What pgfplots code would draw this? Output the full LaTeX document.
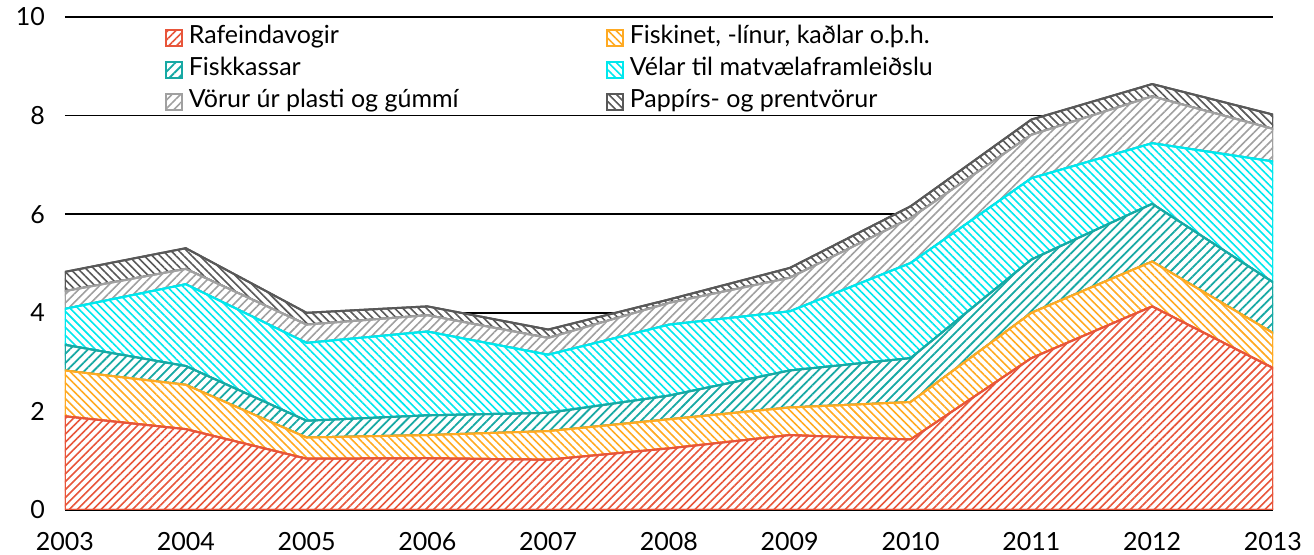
\documentclass[border=0pt]{standalone}
\usepackage{fontspec}
\setmainfont{Lato}
\usepackage{pgfplots}
\usepackage{pgfplotstable}
\pgfplotsset{compat=1.18}
\usetikzlibrary{patterns.meta}
\definecolor{cred}{HTML}{E8553A}
\definecolor{corange}{HTML}{FFAA22}
\definecolor{cteal}{HTML}{17A9A4}
\definecolor{ccyan}{HTML}{00E8EE}
\definecolor{cgray}{HTML}{A0A0A0}
\definecolor{cdark}{HTML}{585858}
\pgfplotstableread{
year red orange teal cyan gray dark
2003 1.90 0.93 0.52 0.73 0.36 0.39
2004 1.64 0.90 0.38 1.66 0.31 0.42
2005 1.04 0.43 0.34 1.58 0.37 0.24
2006 1.05 0.47 0.40 1.70 0.33 0.18
2007 1.02 0.58 0.37 1.18 0.34 0.17
2008 1.25 0.59 0.48 1.44 0.44 0.07
2009 1.52 0.56 0.75 1.20 0.68 0.20
2010 1.43 0.76 0.89 1.93 0.91 0.24
2011 3.08 0.92 1.08 1.65 0.88 0.31
2012 4.13 0.91 1.17 1.23 0.95 0.25
2013 2.88 0.71 1.03 2.45 0.66 0.29
}\datatable
\begin{document}
\begin{tikzpicture}
\begin{axis}[
  scale only axis,
  width=604pt, height=246.5pt,
  xmin=2003, xmax=2013, ymin=0, ymax=10,
  xtick={2003,2004,...,2013},
  ytick={0,2,4,6,8,10},
  ymajorgrids, major grid style={black, line width=0.9pt},
  axis line style={draw=none},
  major tick length=0pt,
  stack plots=y,
  tick label style={font=\fontsize{12.5}{15}\selectfont, /pgf/number format/assume math mode=true},
  x tick label style={/pgf/number format/1000 sep={}, yshift=-7.5pt},
  y tick label style={xshift=-6.5pt},
  legend columns=2,
  legend cell align=left,
  legend style={draw=none, fill=none, at={(axis description cs:0.083,0.987)}, anchor=north west,
    font=\fontsize{12.5}{15}\selectfont, inner sep=0pt, row sep=2pt, column sep=2pt,
    nodes={inner sep=1pt, text height=9pt, text depth=3pt},
    /tikz/column 2/.style={column sep=73pt}},
  legend image code/.code={\draw[#1, line width=0.8pt, preaction={fill=white}] (0pt,-3.9pt) rectangle (7.8pt,3.9pt);},
]
\coordinate (ll) at (rel axis cs:0,0);
\coordinate (ur) at (rel axis cs:1,1);
\addplot[draw=cred, line width=1pt, preaction={fill=white}, pattern={Lines[angle=45,distance=2.8pt,line width=0.8pt]}, pattern color=cred] table[x=year,y=red]{\datatable} \closedcycle;
\addlegendentry{Rafeindavogir}
\addplot[draw=corange, line width=1pt, preaction={fill=white}, pattern={Lines[angle=-45,distance=2.8pt,line width=0.8pt]}, pattern color=corange] table[x=year,y=orange]{\datatable} \closedcycle;
\addlegendentry{Fiskinet, -línur, kaðlar o.þ.h.}
\addplot[draw=cteal, line width=1pt, preaction={fill=white}, pattern={Lines[angle=45,distance=3.2pt,line width=0.9pt]}, pattern color=cteal] table[x=year,y=teal]{\datatable} \closedcycle;
\addlegendentry{Fiskkassar}
\addplot[draw=ccyan, line width=1pt, preaction={fill=white}, pattern={Lines[angle=-45,distance=2.8pt,line width=0.8pt]}, pattern color=ccyan] table[x=year,y=cyan]{\datatable} \closedcycle;
\addlegendentry{Vélar til matvælaframleiðslu}
\addplot[draw=cgray, line width=1pt, preaction={fill=white}, pattern={Lines[angle=45,distance=3pt,line width=0.8pt]}, pattern color=cgray] table[x=year,y=gray]{\datatable} \closedcycle;
\addlegendentry{Vörur úr plasti og gúmmí}
\addplot[draw=cdark, line width=1pt, preaction={fill=white}, pattern={Lines[angle=-45,distance=2.8pt,line width=0.8pt]}, pattern color=cdark] table[x=year,y=dark]{\datatable} \closedcycle;
\addlegendentry{Pappírs- og prentvörur}
\end{axis}
\pgfresetboundingbox
\path[use as bounding box] ([xshift=-32.5pt,yshift=-22.5pt]ll) rectangle ([xshift=20.5pt,yshift=8.5pt]ur);
\end{tikzpicture}
\end{document}
